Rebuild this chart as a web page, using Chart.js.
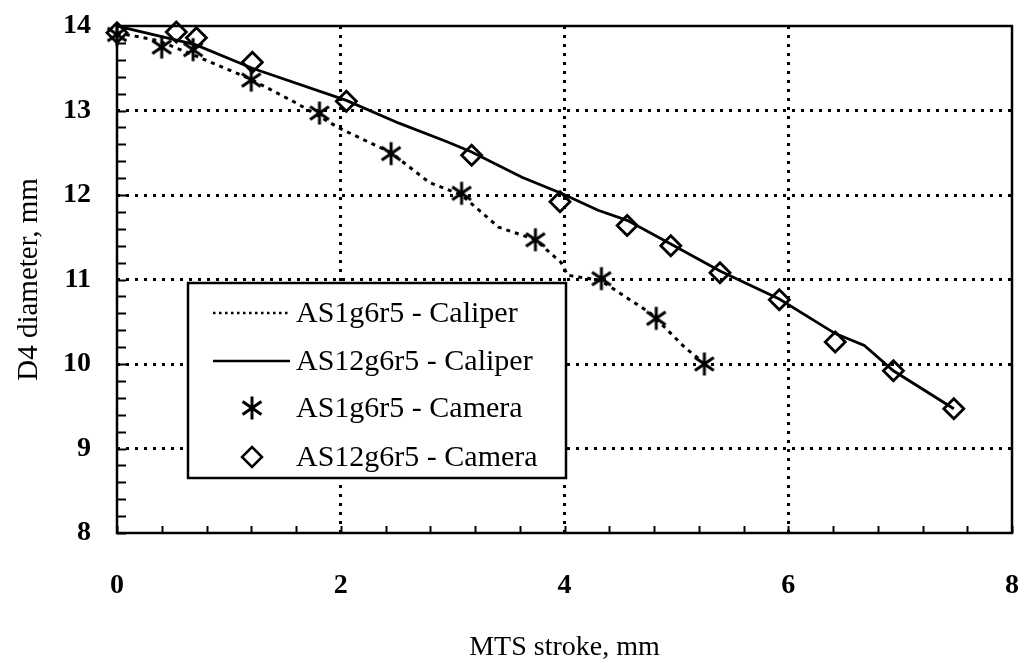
<!DOCTYPE html>
<html>
<head>
<meta charset="utf-8">
<script src="https://cdn.jsdelivr.net/npm/chart.js@4.4.1/dist/chart.umd.min.js"></script>
<style>
  html, body { margin: 0; padding: 0; background: #fff; }
  #wrap { width: 1026px; height: 664px; }
</style>
</head>
<body>
<div id="wrap"><canvas id="myChart" width="1026" height="664"></canvas></div>
<script>
// data (stroke in mm, diameter in mm)
const cal1X = [0, 0.36, 0.68, 1.18, 1.60, 1.99, 2.45, 2.79, 3.08, 3.41, 3.74, 3.97, 4.03, 4.32, 4.77, 5.08, 5.25];
const cal1Y = [13.92, 13.83, 13.66, 13.38, 13.09, 12.79, 12.50, 12.15, 12.00, 11.62, 11.47, 11.20, 11.05, 10.99, 10.60, 10.19, 10.01];

const cal12X = [0, 0.70, 1.21, 2.05, 2.52, 2.95, 3.17, 3.62, 3.97, 4.30, 4.56, 4.95, 5.39, 5.92, 6.42, 6.68, 6.94, 7.48];
const cal12Y = [14.0, 13.78, 13.50, 13.12, 12.85, 12.63, 12.51, 12.21, 12.02, 11.82, 11.70, 11.42, 11.10, 10.77, 10.36, 10.22, 9.92, 9.47];

const cam1X = [0, 0.40, 0.68, 1.20, 1.81, 2.45, 3.08, 3.74, 4.33, 4.82, 5.25];
const cam1Y = [13.90, 13.75, 13.72, 13.36, 12.97, 12.49, 12.02, 11.47, 11.01, 10.54, 10.00];

const cam12X = [0, 0.53, 0.71, 1.21, 2.05, 3.17, 3.96, 4.56, 4.95, 5.39, 5.92, 6.42, 6.94, 7.48];
const cam12Y = [13.92, 13.93, 13.86, 13.57, 13.11, 12.47, 11.92, 11.64, 11.40, 11.08, 10.76, 10.26, 9.92, 9.47];

const xTicks = [0, 2, 4, 6, 8];
const yTicks = [8, 9, 10, 11, 12, 13, 14];

const labels = ['AS1g6r5 - Caliper', 'AS12g6r5 - Caliper', 'AS1g6r5 - Camera', 'AS12g6r5 - Camera'];

const serif = '"Liberation Serif", "DejaVu Serif", serif';

function pts(xs, ys){
    return xs.map((x, i) => ({x: x, y: ys[i]}));
}

//asterisk marker (vertical bar + X)
function makeStar(size){
    const c = document.createElement('canvas');
    c.width = size; c.height = size;
    const g = c.getContext('2d');
    const r = size / 2 - 1.5;
    g.strokeStyle = '#000';
    g.lineWidth = 3;
    g.translate(size / 2, size / 2);
    [0, 55, -55].forEach(a => {
        const t = a * Math.PI / 180;
        g.beginPath();
        g.moveTo(-Math.sin(t) * r, -Math.cos(t) * r);
        g.lineTo(Math.sin(t) * r, Math.cos(t) * r);
        g.stroke();
    });
    return c;
}
const starImg = makeStar(26);

//frame, inward minor ticks and the boxed legend
const framePlugin = {
    id: 'frame',
    afterDatasetsDraw(chart){
        const ctx = chart.ctx;
        const a = chart.chartArea;
        const xs = chart.scales.x, ys = chart.scales.y;
        ctx.save();
        ctx.strokeStyle = '#000';
        ctx.lineWidth = 2;
        for (let v = 8; v <= 14.001; v += 0.2){
            const py = Math.round(ys.getPixelForValue(v)) + 0.5;
            ctx.beginPath();
            ctx.moveTo(a.left, py);
            ctx.lineTo(a.left + 9, py);
            ctx.stroke();
        }
        for (let v = 0; v <= 8.001; v += 0.4){
            const px = Math.round(xs.getPixelForValue(v)) + 0.5;
            ctx.beginPath();
            ctx.moveTo(px, a.bottom);
            ctx.lineTo(px, a.bottom - 7);
            ctx.stroke();
        }
        ctx.lineWidth = 2.5;
        ctx.strokeRect(a.left, a.top, a.right - a.left, a.bottom - a.top);

        // legend box
        const bx = 188, by = 283, bw = 378, bh = 195;
        ctx.fillStyle = '#fff';
        ctx.fillRect(bx, by, bw, bh);
        ctx.lineWidth = 2.5;
        ctx.strokeRect(bx, by, bw, bh);
        const rows = [313, 361, 408, 457];
        ctx.font = '30px ' + serif;
        ctx.fillStyle = '#000';
        ctx.textBaseline = 'middle';
        ctx.textAlign = 'left';
        rows.forEach((ry, i) => {
            ctx.fillText(labels[i], 296, ry + 1);
        });
        ctx.lineWidth = 2.5;
        ctx.setLineDash([2.5, 3.5]);
        ctx.beginPath(); ctx.moveTo(213, rows[0]); ctx.lineTo(290, rows[0]); ctx.stroke();
        ctx.setLineDash([]);
        ctx.lineWidth = 2.5;
        ctx.beginPath(); ctx.moveTo(213, rows[1]); ctx.lineTo(290, rows[1]); ctx.stroke();
        ctx.drawImage(starImg, 252 - 13, rows[2] - 13);
        ctx.lineWidth = 2.5;
        ctx.beginPath();
        ctx.moveTo(252, rows[3] - 10); ctx.lineTo(262, rows[3]);
        ctx.lineTo(252, rows[3] + 10); ctx.lineTo(242, rows[3]);
        ctx.closePath();
        ctx.stroke();
        ctx.restore();
    }
};

const ctx = document.getElementById('myChart');

new Chart(ctx, {
    type: 'scatter',
    data: {
        datasets: [
            {
                label: labels[2],
                data: pts(cam1X, cam1Y),
                pointStyle: starImg,
                pointRadius: 13,
                showLine: false,
                clip: false,
                order: 1
            },
            {
                label: labels[3],
                data: pts(cam12X, cam12Y),
                pointStyle: 'rectRot',
                pointRadius: 10,
                pointBorderWidth: 2.8,
                pointBorderColor: '#000',
                pointBackgroundColor: 'rgba(255,255,255,0)',
                showLine: false,
                clip: false,
                order: 2
            },
            {
                label: labels[0],
                data: pts(cal1X, cal1Y),
                showLine: true,
                borderColor: '#000',
                borderWidth: 3,
                borderDash: [4, 5],
                pointRadius: 0,
                tension: 0,
                order: 3
            },
            {
                label: labels[1],
                data: pts(cal12X, cal12Y),
                showLine: true,
                borderColor: '#000',
                borderWidth: 2.8,
                pointRadius: 0,
                tension: 0,
                order: 4
            }
        ]
    },
    options: {
        responsive: false,
        animation: false,
        events: [],
        layout: { padding: { top: 26, right: 11, left: 0, bottom: 0 } },
        plugins: {
            legend: { display: false },
            tooltip: { enabled: false }
        },
        scales: {
            x: {
                type: 'linear',
                min: 0, max: 8,
                afterBuildTicks: (s) => { s.ticks = xTicks.map(v => ({value: v})); },
                afterFit: (s) => { s.height = 131; s.paddingLeft = 0; s.paddingRight = 0; },
                border: { display: false, dash: [3, 6] },
                grid: {
                    drawTicks: false,
                    lineWidth: (c) => (c.tick && (c.tick.value === 0 || c.tick.value === 8)) ? 0 : 3,
                    color: '#000'
                },
                ticks: {
                    padding: 36,
                    color: '#000',
                    font: { family: serif, size: 28, weight: 'bold' }
                },
                title: {
                    display: true,
                    text: 'MTS stroke, mm',
                    color: '#000',
                    font: { family: serif, size: 28 },
                    padding: { top: 20, bottom: 0 }
                }
            },
            y: {
                type: 'linear',
                min: 8, max: 14,
                afterBuildTicks: (s) => { s.ticks = yTicks.map(v => ({value: v})); },
                afterFit: (s) => { s.width = 117; s.paddingTop = 0; s.paddingBottom = 0; },
                border: { display: false, dash: [3, 6] },
                grid: {
                    drawTicks: false,
                    lineWidth: (c) => (c.tick && (c.tick.value === 8 || c.tick.value === 14)) ? 0 : 3,
                    color: '#000'
                },
                ticks: {
                    padding: 26,
                    color: '#000',
                    font: { family: serif, size: 28, weight: 'bold' }
                },
                title: {
                    display: true,
                    text: 'D4 diameter, mm',
                    color: '#000',
                    font: { family: serif, size: 29 },
                    padding: { top: 12, bottom: 0 }
                }
            }
        }
    },
    plugins: [framePlugin]
});
</script>
</body>
</html>
